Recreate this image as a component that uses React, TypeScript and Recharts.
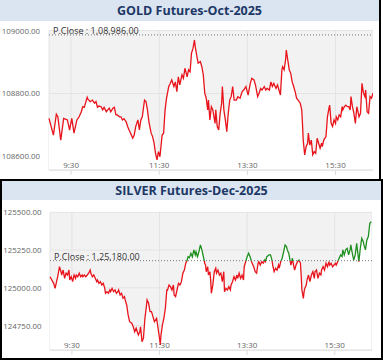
import React from "react";
import { ComposedChart, Area, XAxis, YAxis, CartesianGrid, ReferenceLine } from "recharts";

// minutes after 09:00
const timeTicks = [30, 150, 270, 390];
const sessionMinutes = 441;

const goldTitle = "GOLD Futures-Oct-2025";
const goldPrevClose = 108986;
const goldTicks = [108600, 108800, 109000];
const goldRange: [number, number] = [108557, 109000];
// [minute after 09:00, price]
const goldSeries: [number, number][] = [
  [0, 108721], [6, 108668], [10, 108734], [12, 108726], [16, 108652], [20, 108721], [25, 108716], [28, 108684],
  [31, 108721], [34, 108674], [38, 108716], [41, 108726], [44, 108742], [46, 108758], [48, 108756], [52, 108788],
  [53, 108782], [56, 108774], [59, 108779], [62, 108769], [64, 108774], [66, 108756], [68, 108760], [71, 108758],
  [73, 108748], [75, 108756], [78, 108742], [80, 108748], [82, 108753], [84, 108742], [87, 108753], [89, 108756],
  [91, 108732], [93, 108732], [96, 108726], [98, 108726], [100, 108716], [102, 108720], [105, 108710], [107, 108695],
  [109, 108684], [111, 108674], [114, 108658], [116, 108668], [118, 108695], [121, 108716], [123, 108684], [125, 108716],
  [127, 108726], [130, 108779], [132, 108774], [134, 108748], [136, 108710], [139, 108674], [141, 108663], [143, 108642],
  [145, 108610], [147, 108589], [149, 108615], [151, 108599], [154, 108668], [156, 108674], [158, 108748], [160, 108785],
  [163, 108822], [165, 108832], [167, 108843], [170, 108822], [172, 108837], [174, 108806], [176, 108853], [178, 108827],
  [181, 108859], [183, 108848], [185, 108880], [188, 108853], [190, 108875], [192, 108869], [194, 108928], [196, 108943],
  [198, 108970], [199, 108949], [201, 108922], [203, 108896], [206, 108901], [208, 108885], [210, 108859], [212, 108801],
  [214, 108785], [216, 108748], [217, 108779], [219, 108716], [221, 108758], [223, 108748], [226, 108705], [227, 108748],
  [229, 108695], [231, 108684], [233, 108737], [235, 108769], [236, 108822], [238, 108748], [240, 108716], [242, 108679],
  [244, 108737], [246, 108779], [248, 108790], [250, 108822], [252, 108779], [255, 108779], [257, 108790], [260, 108785],
  [263, 108806], [265, 108811], [268, 108822], [271, 108795], [274, 108832], [276, 108848], [279, 108843], [281, 108827],
  [284, 108790], [286, 108801], [288, 108816], [290, 108811], [293, 108822], [295, 108811], [297, 108816], [300, 108811],
  [302, 108837], [304, 108822], [306, 108832], [309, 108816], [311, 108827], [313, 108811], [315, 108795], [317, 108875],
  [318, 108885], [320, 108875], [322, 108906], [323, 108938], [325, 108906], [327, 108875], [329, 108864], [331, 108837],
  [333, 108822], [335, 108806], [337, 108785], [339, 108779], [342, 108769], [344, 108748], [345, 108705], [346, 108652],
  [348, 108605], [350, 108631], [352, 108642], [353, 108674], [355, 108636], [357, 108652], [359, 108605], [361, 108615],
  [363, 108610], [365, 108658], [367, 108642], [369, 108626], [371, 108642], [372, 108631], [374, 108652], [377, 108663],
  [379, 108726], [381, 108753], [382, 108763], [384, 108705], [386, 108695], [388, 108716], [390, 108705], [391, 108726],
  [393, 108716], [395, 108732], [397, 108726], [399, 108758], [400, 108748], [402, 108758], [404, 108763], [406, 108758],
  [408, 108758], [410, 108748], [411, 108790], [413, 108758], [415, 108737], [417, 108705], [419, 108758], [420, 108748],
  [422, 108726], [424, 108737], [426, 108832], [428, 108801], [430, 108790], [431, 108811], [433, 108742], [435, 108737],
  [437, 108790], [439, 108785], [441, 108801],
];

const silverTitle = "SILVER Futures-Dec-2025";
const silverPrevClose = 125180;
const silverTicks = [124750, 125000, 125250, 125500];
const silverRange: [number, number] = [124589, 125500];
const silverSeries: [number, number][] = [
  [0, 125074], [5, 125030], [7, 124997], [9, 125041], [11, 125085], [13, 125140], [15, 125107], [16, 125085],
  [18, 125118], [20, 125063], [22, 125097], [24, 125085], [26, 125118], [27, 125052], [29, 125074], [31, 125041],
  [33, 125085], [35, 125063], [36, 125085], [38, 125074], [40, 125097], [42, 125074], [44, 125085], [45, 125074],
  [47, 125085], [49, 125074], [51, 125085], [53, 125097], [55, 125118], [56, 125097], [58, 125074], [60, 125085],
  [62, 125063], [64, 125041], [65, 125052], [67, 125030], [69, 125041], [71, 125019], [73, 125030], [75, 124997],
  [76, 124964], [78, 124975], [80, 124964], [82, 124986], [83, 124975], [85, 124997], [87, 124975], [89, 124986],
  [91, 124964], [93, 124975], [94, 124986], [96, 124953], [98, 124964], [100, 124931], [102, 124942], [103, 124920],
  [105, 124887], [107, 124821], [109, 124776], [112, 124766], [114, 124743], [116, 124710], [118, 124733], [121, 124688],
  [123, 124710], [124, 124743], [126, 124644], [128, 124667], [130, 124799], [132, 124876], [133, 124920], [135, 124898],
  [137, 124843], [139, 124843], [141, 124810], [143, 124776], [146, 124799], [148, 124733], [150, 124667], [151, 124622],
  [152, 124688], [154, 124755], [156, 124799], [158, 124865], [160, 124986], [161, 124986], [163, 125019], [165, 125008],
  [167, 124986], [169, 125019], [170, 124953], [172, 124942], [174, 124986], [176, 125030], [178, 125019], [180, 125041],
  [182, 125097], [184, 125118], [186, 125163], [188, 125184], [189, 125206], [191, 125200], [193, 125229], [195, 125206],
  [197, 125251], [199, 125218], [200, 125239], [202, 125206], [204, 125239], [206, 125284], [208, 125251], [209, 125229],
  [210, 125206], [212, 125163], [213, 125151], [214, 125107], [216, 125140], [217, 125085], [219, 125107], [220, 125052],
  [221, 124964], [223, 125019], [225, 125107], [227, 125130], [228, 125097], [230, 125118], [232, 125085], [234, 125097],
  [236, 125041], [238, 125107], [239, 124975], [241, 124997], [243, 124986], [245, 125008], [247, 124986], [248, 125019],
  [250, 125041], [252, 125074], [254, 125052], [256, 125085], [257, 125063], [259, 125097], [261, 125063], [263, 125085],
  [265, 125052], [266, 125140], [268, 125173], [270, 125206], [272, 125229], [274, 125206], [276, 125173], [279, 125140],
  [281, 125107], [283, 125097], [285, 125163], [286, 125173], [288, 125151], [290, 125173], [292, 125163], [294, 125184],
  [295, 125173], [297, 125206], [300, 125218], [302, 125218], [304, 125184], [305, 125151], [307, 125107], [309, 125130],
  [311, 125118], [313, 125151], [314, 125130], [316, 125173], [318, 125196], [320, 125239], [322, 125284], [324, 125272],
  [325, 125251], [327, 125229], [329, 125173], [330, 125151], [332, 125196], [333, 125163], [335, 125118], [337, 125151],
  [339, 125173], [341, 125184], [343, 125163], [344, 125085], [345, 124986], [347, 124931], [348, 124975], [349, 124997],
  [351, 125019], [352, 125052], [354, 125085], [356, 125041], [358, 125085], [360, 125107], [362, 125063], [363, 125107],
  [365, 125118], [367, 125063], [369, 125097], [371, 125085], [372, 125118], [374, 125140], [376, 125118], [378, 125163],
  [380, 125140], [382, 125173], [383, 125151], [385, 125163], [387, 125140], [389, 125151], [391, 125163], [392, 125151],
  [394, 125173], [396, 125196], [398, 125218], [400, 125206], [401, 125251], [403, 125218], [405, 125251], [407, 125262],
  [409, 125218], [411, 125251], [412, 125284], [414, 125229], [416, 125184], [418, 125218], [420, 125295], [421, 125251],
  [423, 125173], [425, 125262], [427, 125328], [429, 125306], [430, 125284], [432, 125251], [434, 125317], [436, 125339],
  [438, 125427], [440, 125438],
];

const RED = "#e8131b";
const GREEN = "#1f8f1f";
const TITLE_BG = "#dbe5f1";
const TITLE_INK = "#1d3866";
const FONT = "'Open Sans', 'Segoe UI', sans-serif";

function clock(m: number) {
  const h = 9 + Math.floor(m / 60);
  return `${h}:${String(m % 60).padStart(2, "0")}`;
}

// indian digit grouping, 108986 -> 1,08,986.00
function inr(v: number) {
  const [i, d] = v.toFixed(2).split(".");
  const head = i.slice(0, -3).replace(/\B(?=(\d{2})+(?!\d))/g, ",");
  return (head ? head + "," : "") + i.slice(-3) + "." + d;
}

function PCloseLabel({ viewBox, text }: any) {
  if (!viewBox) return null;
  return (
    <text x={viewBox.x + 4} y={viewBox.y - 1} fontSize={9} fill="#333" fontFamily={FONT}>
      {text}
    </text>
  );
}

type ChartProps = {
  id: string;
  series: [number, number][];
  prevClose: number;
  ticks: number[];
  range: [number, number];
  width: number;
  height: number;
  marginTop: number;
  axisWidth: number;
  labelGap: number;
};

function PriceChart({ id, series, prevClose, ticks, range, width, height, marginTop, axisWidth, labelGap }: ChartProps) {
  const data = series.map(([minute, price]) => ({ minute, price }));
  const prices = series.map((s) => s[1]);
  const hi = Math.max(...prices);
  const lo = Math.min(...prices);
  const split = Math.min(1, Math.max(0, (hi - prevClose) / (hi - lo)));

  return (
    <ComposedChart width={width} height={height} data={data} margin={{ top: marginTop, right: 0, bottom: 0, left: 0 }}>
      <defs>
        <linearGradient id={id} x1="0" y1="0" x2="0" y2="1">
          <stop offset={split} stopColor={GREEN} />
          <stop offset={split} stopColor={RED} />
        </linearGradient>
      </defs>
      <CartesianGrid horizontal={false} vertical={false} fill="#f2f2f2" stroke="none" />
      <XAxis
        type="number"
        dataKey="minute"
        domain={[0, sessionMinutes]}
        ticks={timeTicks}
        interval={0}
        height={10}
        tickSize={5}
        tickMargin={0}
        axisLine={{ stroke: "#dcdcdc" }}
        tickLine={{ stroke: "#dcdcdc" }}
        tick={(p: any) => (
          <text x={p.x} y={p.y - 6.7} textAnchor="middle" fontSize={8} fill="#666" fontFamily={FONT}>
            {clock(p.payload.value)}
          </text>
        )}
      />
      <YAxis
        type="number"
        domain={range}
        allowDataOverflow
        ticks={ticks}
        interval={0}
        width={axisWidth}
        axisLine={false}
        tickLine={false}
        tickSize={0}
        tickMargin={0}
        tick={(p: any) => (
          <text x={p.x - labelGap} y={p.y + 3} textAnchor="end" fontSize={7.9} fill="#666" fontFamily={FONT}>
            {Number(p.payload.value).toFixed(2)}
          </text>
        )}
      />
      <Area
        type="linear"
        dataKey="price"
        stroke={`url(#${id})`}
        strokeWidth={1.3}
        fill="#ffffff"
        fillOpacity={1}
        dot={false}
        activeDot={false}
        isAnimationActive={false}
      />
      <CartesianGrid stroke="#e4e4e4" fill="none" />
      <ReferenceLine
        y={prevClose}
        stroke="#777"
        strokeDasharray="1 2"
        label={<PCloseLabel text={`P.Close : ${inr(prevClose)}`} />}
      />
    </ComposedChart>
  );
}

const abs = (s: React.CSSProperties): React.CSSProperties => ({ position: "absolute", ...s });

const titleStyle: React.CSSProperties = {
  background: TITLE_BG,
  color: TITLE_INK,
  fontWeight: 700,
  fontSize: 12.5,
  textAlign: "center",
};

export default function App() {
  return (
    <div style={{ position: "relative", width: 383, height: 362, background: "#fff", fontFamily: FONT, overflow: "hidden" }}>
      <style>{"body{margin:0}"}</style>

      <div style={abs({ ...titleStyle, left: 0, top: 0, width: 379, height: 21, lineHeight: "21px" })}>{goldTitle}</div>
      <div style={abs({ left: 0, top: 22, width: 373, height: 158 })}>
        <PriceChart
          id="goldStroke"
          series={goldSeries}
          prevClose={goldPrevClose}
          ticks={goldTicks}
          range={goldRange}
          width={373}
          height={158}
          marginTop={8.5}
          axisWidth={49}
          labelGap={9}
        />
      </div>

      <div style={abs({ ...titleStyle, left: 2, top: 181, width: 379, height: 19, lineHeight: "19px" })}>{silverTitle}</div>
      <div style={abs({ left: 0, top: 201, width: 372, height: 159 })}>
        <PriceChart
          id="silverStroke"
          series={silverSeries}
          prevClose={silverPrevClose}
          ticks={silverTicks}
          range={silverRange}
          width={372}
          height={159}
          marginTop={11.3}
          axisWidth={50}
          labelGap={8.5}
        />
      </div>

      {/* frame lines */}
      <div style={abs({ left: 379, top: 0, width: 2, height: 180, background: "#000" })} />
      <div style={abs({ left: 0, top: 179, width: 383, height: 2, background: "#000" })} />
      <div style={abs({ left: 0, top: 179, width: 2, height: 181, background: "#000" })} />
      <div style={abs({ left: 381, top: 179, width: 2, height: 181, background: "#000" })} />
      <div style={abs({ left: 0, top: 358, width: 383, height: 2, background: "#000" })} />
    </div>
  );
}
